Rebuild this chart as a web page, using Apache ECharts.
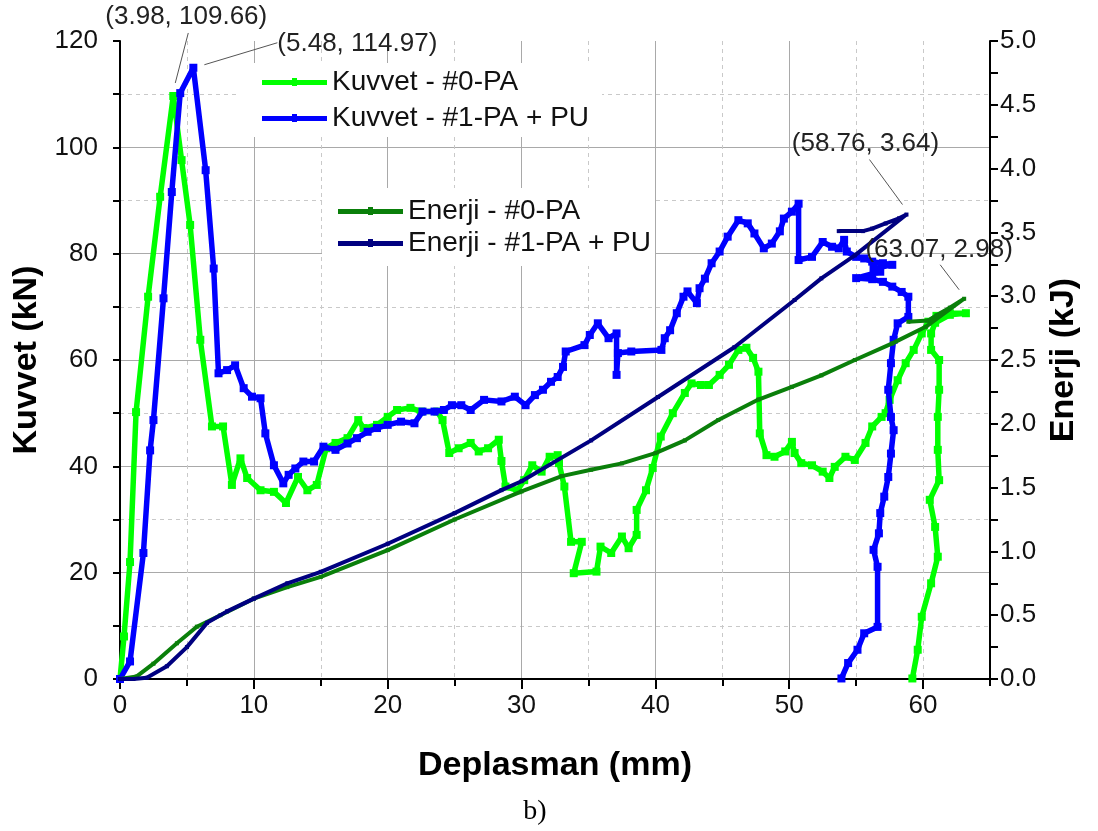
<!DOCTYPE html>
<html>
<head>
<meta charset="utf-8">
<script src="https://cdn.jsdelivr.net/npm/echarts@6/dist/echarts.min.js"></script>
<style>
  html, body { margin: 0; padding: 0; background: #fff; }
  #chart { width: 1098px; height: 831px; }
</style>
</head>
<body>
<div id="chart"></div>
<script>
// Force–displacement curves (kN vs mm)
const forcePA = [
  [0,0],[0.3,8],[0.75,22],[1.2,50.2],[2.1,71.9],[3.0,90.7],[3.98,109.66],[4.6,97.6],[5.24,85.4],
  [6.0,63.8],[6.87,47.5],[7.7,47.5],[8.36,36.5],[9.0,41.5],[9.5,37.8],[10.5,35.5],[11.5,35.2],
  [12.4,33.1],[13.3,38],[14.0,35.5],[14.7,36.5],[15.4,43.4],[16.1,44.4],[17.0,45.3],[17.8,48.7],
  [18.2,47.2],[19.2,47.8],[20.0,49.3],[20.7,50.6],[21.7,51],[22.5,50.3],[23.7,50.3],[24.1,48.7],
  [24.6,42.5],[25.3,43.4],[26.2,44.4],[26.8,42.8],[27.5,43.4],[28.3,45],[28.5,41],[28.8,36.2],
  [29.7,35.5],[30.2,37.4],[30.8,40.2],[31.5,39],[32.1,41.8],[32.7,42.1],[32.8,40.6],[33.2,36.2],
  [33.7,25.8],[34.5,25.8],[33.9,19.9],[35.6,20.2],[35.9,24.9],[36.7,23.7],[37.5,26.8],[38.0,24.6],
  [38.6,27.1],[38.6,31.8],[39.3,35.5],[39.8,39.7],[40.4,45.6],[41.3,50],[42.2,53.8],[42.7,55.6],
  [43.4,55.3],[44.0,55.3],[44.8,57.2],[45.5,59.1],[46.2,61.9],[46.8,62.3],[47.3,60.4],[47.7,57.8],
  [47.8,46.2],[48.3,42.1],[48.9,41.8],[49.7,42.8],[50.2,44.6],[50.4,42.5],[50.9,40.6],[51.7,40.2],
  [52.5,39],[53.0,37.8],[53.4,39.9],[54.2,41.8],[54.9,41.2],[55.7,44.4],[56.2,47.5],[56.9,49.3],
  [57.2,50],[57.5,52.5],[58.1,56.2],[58.7,59.4],[59.3,61.9],[59.9,65],[60.4,67.2],[61.0,68.3],
  [62.0,68.8],[63.2,68.8],[62.0,68.5],[60.9,67.0],[60.6,65.0],[60.6,61.9],[61.2,60],[61.2,54.4],
  [61.1,49.3],[61.1,43.1],[61.2,37.4],[60.5,33.7],[60.9,28.6],[61.1,23],[60.6,18],[59.9,11.7],
  [59.6,5.5],[59.2,0.1]
];
const forcePAPU = [
  [0,0],[0.75,3.3],[1.75,23.7],[2.25,43],[2.5,48.7],[3.25,71.6],[3.87,91.6],[4.5,110.2],[5.48,114.97],
  [6.4,95.7],[7.0,77.2],[7.36,57.5],[8.0,58.1],[8.6,59],[9.24,54.7],[9.86,53.1],[10.5,52.8],
  [10.86,46.2],[11.5,40.2],[12.2,36.8],[12.6,38.4],[13.1,39.6],[13.7,40.9],[14.5,40.9],[15.2,43.7],
  [16.1,43.1],[17.0,44.3],[17.7,45.3],[18.5,46.5],[19.2,47.2],[20.0,47.8],[21.0,48.4],[22.0,48.1],
  [22.6,50.3],[23.5,50.3],[24.2,50.6],[24.8,51.5],[25.5,51.5],[26.2,50.6],[27.2,52.5],[28.5,52.2],
  [29.5,53.1],[30.3,51.5],[31.0,53.4],[31.6,54.4],[32.2,55.9],[32.7,56.8],[33.1,58.7],[33.3,61.6],
  [34.7,62.8],[35.1,64.7],[35.7,66.9],[36.5,64.1],[37.1,65.0],[37.1,57.2],[37.2,61.3],[38.2,61.6],
  [40.45,61.9],[40.7,64.1],[41.1,65.6],[41.6,68.8],[42.1,71.9],[42.4,72.9],[43.1,70.7],[43.3,73.5],
  [43.7,75.3],[44.2,78.2],[44.8,80.4],[45.4,83.2],[46.2,86.3],[46.9,85.7],[47.4,83.8],[48.1,81],
  [48.7,81.9],[49.3,84.2],[49.6,86.6],[50.2,87.9],[50.7,89.4],[50.7,78.8],[51.7,79.4],[52.5,82.2],
  [53.2,81.3],[53.7,81.0],[54.1,82.6],[54.3,80.4],[55.0,79.4],[55.6,79.1],[56.2,78.5],[57.0,78.2],
  [57.7,77.9],[56.3,77.2],[56.8,76.6],[55.0,75.4],[56.2,75.2],[57.0,74.7],[57.7,73.8],[58.4,72.8],
  [58.9,71.9],[58.9,68.1],[58.1,66.9],[57.8,63.8],[57.6,59.4],[57.4,54.4],[57.6,49.3],[57.8,46.8],
  [57.6,42.4],[57.4,38],[57.1,34.3],[56.8,31.2],[56.7,27.4],[56.3,24.3],[56.6,21.1],[56.6,9.8],
  [55.6,8.6],[55.1,5.5],[54.4,3],[53.9,0.1]
];

// Absorbed energy curves (kJ vs mm)
const energyPA = [
  [0,0],[1.25,0.02],[2.5,0.12],[4.25,0.28],[5.74,0.41],[7.5,0.5],[10,0.63],[12.5,0.72],[15,0.8],
  [20,1.01],[25,1.25],[30,1.47],[33,1.59],[35.2,1.64],[37.5,1.69],[40,1.77],[42.2,1.87],[44.7,2.03],
  [47.7,2.19],[50.2,2.29],[52.4,2.38],[54.9,2.5],[57.7,2.63],[60.2,2.76],[63.07,2.98],
  [62,2.91],[61,2.85],[60.4,2.81],[58.9,2.8]
];
const energyPAPU = [
  [0,0],[1,0],[2,0.01],[3.5,0.1],[5,0.25],[6.5,0.44],[8,0.53],[10,0.63],[12.5,0.75],[15,0.84],
  [20,1.06],[25,1.3],[28.5,1.48],[30,1.55],[35.2,1.87],[40.2,2.21],[45.9,2.6],[50.4,2.97],
  [52.4,3.14],[54.9,3.32],[58.76,3.64],[58.2,3.61],[57.2,3.57],[56.2,3.53],[55.5,3.51],[53.7,3.51]
];

// Annotated points
const forcePeaks = [[3.98, 109.66], [5.48, 114.97]];
const energyMaxima = [[58.76, 3.64], [63.07, 2.98]];

const seriesNames = ['Kuvvet - #0-PA', 'Kuvvet - #1-PA + PU', 'Enerji - #0-PA', 'Enerji - #1-PA + PU'];
const xMajorTicks = [0, 10, 20, 30, 40, 50, 60];

const SANS = 'Liberation Sans';
const NARROW = '"Liberation Sans Narrow", "Liberation Sans"';

// Legend key: a thick line with a small square bump in the middle
const KEY_ICON = 'path://M0,2L30,2L30,0L35,0L35,2L65,2L65,7L35,7L35,8L30,8L30,7L0,7Z';

const chart = echarts.init(document.getElementById('chart'), null, { renderer: 'canvas' });

const axisBlack = { color: '#000', width: 2 };
const legendText = { fontFamily: SANS, fontSize: 28, lineHeight: 30, color: '#111' };

const option = {
  animation: false,
  backgroundColor: '#fff',
  grid: { left: 120, right: 108, top: 41, bottom: 152, containLabel: false },
  legend: [
    {
      data: seriesNames.slice(0, 2), icon: KEY_ICON,
      orient: 'vertical', left: 240, top: 63,
      padding: [4, 13, 4, 22], itemGap: 6, itemWidth: 65, itemHeight: 8,
      backgroundColor: '#fff', selectedMode: false, textStyle: legendText
    },
    {
      data: seriesNames.slice(2, 4), icon: KEY_ICON,
      orient: 'vertical', left: 322, top: 188,
      padding: [8, 4, 8, 16], itemGap: 2, itemWidth: 65, itemHeight: 8,
      backgroundColor: '#fff', selectedMode: false, textStyle: legendText
    }
  ],
  xAxis: [
    {
      type: 'value', min: 0, max: 65, interval: 5, position: 'bottom',
      name: 'Deplasman (mm)', nameLocation: 'middle', nameGap: 70,
      nameTextStyle: { fontFamily: SANS, fontSize: 34, fontWeight: 'bold', color: '#000' },
      axisLine: { show: true, onZero: false, lineStyle: axisBlack },
      axisTick: { show: true, length: 7, lineStyle: axisBlack },
      axisLabel: {
        fontFamily: NARROW, fontSize: 26, color: '#111', margin: 14,
        formatter: v => (xMajorTicks.indexOf(v) >= 0 ? String(v) : '')
      },
      splitLine: { show: true, showMinLine: false, showMaxLine: false,
        lineStyle: { color: '#c9c9c9', width: 1, type: [4, 4] } }
    },
    {
      type: 'value', min: 0, max: 65, interval: 10, position: 'bottom',
      axisLine: { show: false },
      axisTick: { show: true, length: 10, lineStyle: axisBlack, customValues: xMajorTicks },
      axisLabel: { show: false },
      splitLine: { show: true, showMinLine: false, showMaxLine: false,
        lineStyle: { color: '#a9a9a9', width: 1 } }
    }
  ],
  yAxis: [
    {
      type: 'value', min: 0, max: 120, interval: 20, position: 'left',
      name: 'Kuvvet (kN)', nameLocation: 'middle', nameGap: 73,
      nameTextStyle: { fontFamily: SANS, fontSize: 34, fontWeight: 'bold', color: '#000' },
      axisLine: { show: true, onZero: false, lineStyle: axisBlack },
      axisTick: { show: true, length: 7, lineStyle: axisBlack },
      minorTick: { show: true, splitNumber: 2, length: 7, lineStyle: axisBlack },
      axisLabel: { fontFamily: SANS, fontSize: 26, color: '#111', margin: 22 },
      splitLine: { show: true, showMinLine: false, showMaxLine: false,
        lineStyle: { color: '#a9a9a9', width: 1 } },
      minorSplitLine: { show: true, lineStyle: { color: '#c9c9c9', width: 1, type: [4, 4] } }
    },
    {
      type: 'value', min: 0, max: 5, interval: 0.5, position: 'right',
      name: 'Enerji (kJ)', nameLocation: 'middle', nameGap: 57,
      nameTextStyle: { fontFamily: SANS, fontSize: 34, fontWeight: 'bold', color: '#000' },
      axisLine: { show: true, onZero: false, lineStyle: axisBlack },
      axisTick: { show: true, length: 8, lineStyle: axisBlack },
      minorTick: { show: true, splitNumber: 2, length: 8, lineStyle: axisBlack },
      axisLabel: { fontFamily: SANS, fontSize: 26, color: '#111', margin: 10,
        formatter: v => v.toFixed(1) },
      splitLine: { show: false }
    }
  ],
  series: [
    {
      name: seriesNames[0], type: 'line', xAxisIndex: 0, yAxisIndex: 0, data: forcePA,
      symbol: 'rect', symbolSize: 8, showSymbol: true, z: 2,
      itemStyle: { color: '#00ff00' }, lineStyle: { color: '#00ff00', width: 5.5 }
    },
    {
      name: seriesNames[1], type: 'line', xAxisIndex: 0, yAxisIndex: 0, data: forcePAPU,
      symbol: 'rect', symbolSize: 8, showSymbol: true, z: 3,
      itemStyle: { color: '#0000ff' }, lineStyle: { color: '#0000ff', width: 5.5 }
    },
    {
      name: seriesNames[2], type: 'line', xAxisIndex: 0, yAxisIndex: 1, data: energyPA,
      symbol: 'rect', symbolSize: 4, showSymbol: true, z: 4,
      itemStyle: { color: '#0a7f0a' }, lineStyle: { color: '#0a7f0a', width: 4 }
    },
    {
      name: seriesNames[3], type: 'line', xAxisIndex: 0, yAxisIndex: 1, data: energyPAPU,
      symbol: 'rect', symbolSize: 4, showSymbol: true, z: 5,
      itemStyle: { color: '#000080' }, lineStyle: { color: '#000080', width: 4 }
    }
  ]
};

chart.setOption(option);

// Leader lines and coordinate labels for the peak and final points
const fmt = p => '(' + p[0].toFixed(2) + ', ' + p[1].toFixed(2) + ')';
const noteLayout = [
  { point: forcePeaks[0], yAxisIndex: 0, line: [2, -13, 15, -63], label: [13, -79], align: 'center' },
  { point: forcePeaks[1], yAxisIndex: 0, line: [11, -3, 84, -25], label: [84, -24], align: 'left' },
  { point: energyMaxima[0], yAxisIndex: 1, line: [-4, -10, -37, -55], label: [-41, -71], align: 'center' },
  { point: energyMaxima[1], yAxisIndex: 1, line: [-5, -9, -24, -34], label: [-25, -49], align: 'center' }
];

const graphics = [];
noteLayout.forEach(n => {
  const px = chart.convertToPixel({ xAxisIndex: 0, yAxisIndex: n.yAxisIndex }, n.point);
  graphics.push({
    type: 'line', silent: true, z: 20,
    shape: { x1: px[0] + n.line[0], y1: px[1] + n.line[1], x2: px[0] + n.line[2], y2: px[1] + n.line[3] },
    style: { stroke: '#555', lineWidth: 1 }
  });
  graphics.push({
    type: 'text', silent: true, z: 20,
    x: px[0] + n.label[0], y: px[1] + n.label[1],
    style: { text: fmt(n.point), font: '26px "Liberation Sans"', fill: '#222',
      align: n.align, verticalAlign: 'middle' }
  });
});
graphics.push({
  type: 'text', silent: true, x: 535, y: 812,
  style: { text: 'b)', font: '28px "Liberation Serif"', fill: '#000', align: 'center', verticalAlign: 'middle' }
});

chart.setOption({ graphic: graphics });
</script>
</body>
</html>
